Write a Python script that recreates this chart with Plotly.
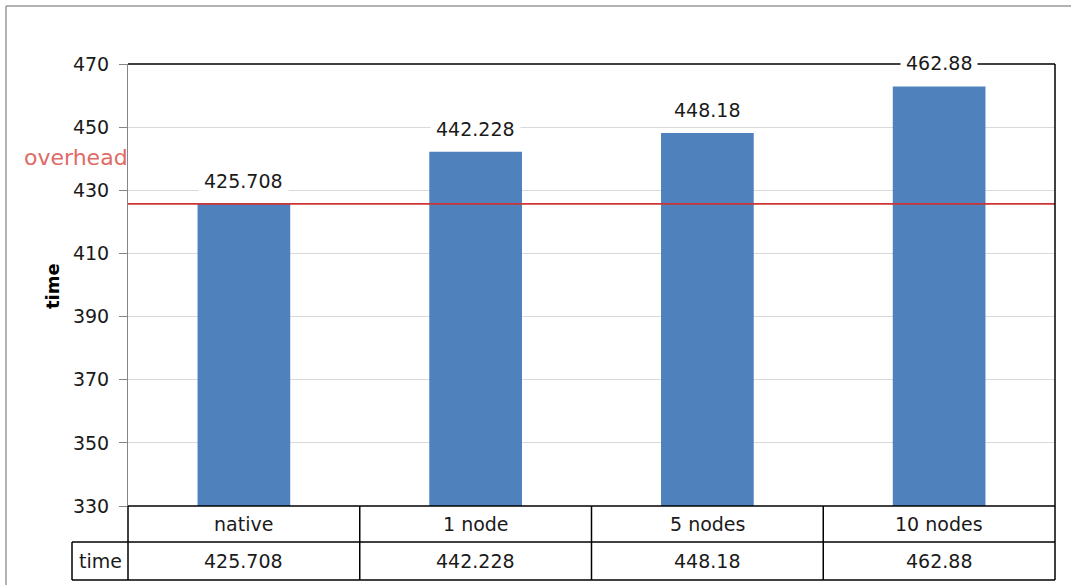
import plotly.graph_objects as go

# Run times per configuration
categories = ["native", "1 node", "5 nodes", "10 nodes"]
times = [425.708, 442.228, 448.18, 462.88]
series_name = "time"
baseline = times[0]          # reference level drawn as the "overhead" line
y_ticks = [330, 350, 370, 390, 410, 430, 450, 470]

W, H = 1071, 585
L, R, T, B = 128, 16, 64, 79
PW, PH = W - L - R, H - T - B

def px_x(px):
    return (px - L) / PW

def px_y(py):
    return (H - B - py) / PH

FONT = "DejaVu Sans"
BAR = "#4F81BD"
RED = "#CC3535"
TXT = "#1a1a1a"

fig = go.Figure()
fig.add_trace(go.Bar(
    x=list(range(len(categories))), y=times, marker=dict(color=BAR, line_width=0),
    name=series_name, showlegend=False, hoverinfo="skip",
))
# horizontal overhead reference across the plot
fig.add_trace(go.Scatter(
    x=[0, 1], y=[baseline, baseline], xaxis="x2", mode="lines",
    line=dict(color=RED, width=1.6), showlegend=False, hoverinfo="skip",
))

def label(**kw):
    d = dict(showarrow=False, xanchor="center", yanchor="middle")
    d.update(kw)
    return d

ann = []
# value labels above bars
for i, v in enumerate(times):
    ann.append(label(x=i, y=v, xref="x", yref="y", text=f"{v}", yshift=23,
                     bgcolor="white", borderpad=5,
                     font=dict(family=FONT, size=19, color=TXT)))
# data table text
row1_y = px_y(524)
row2_y = px_y(561)
for i, (c, v) in enumerate(zip(categories, times)):
    ann.append(label(x=i, y=row1_y, xref="x", yref="paper", text=c,
                     font=dict(family=FONT, size=19, color=TXT)))
    ann.append(label(x=i, y=row2_y, xref="x", yref="paper", text=f"{v}",
                     font=dict(family=FONT, size=19, color=TXT)))
ann.append(label(x=px_x(100), y=row2_y, xref="paper", yref="paper", text=series_name,
                 font=dict(family=FONT, size=19, color=TXT)))
# axis title
ann.append(label(x=px_x(52), y=px_y(286), xref="paper", yref="paper", text="<b>time</b>",
                 textangle=-90, font=dict(family=FONT, size=18, color="#000")))
# overhead label
ann.append(label(x=0, y=px_y(157), xref="paper", yref="paper", text="overhead",
                 xanchor="right", xshift=2,
                 font=dict(family=FONT, size=22, color="#E06A66")))

shapes = []
def seg(x0, y0, x1, y1, color="#000", width=1.5):
    shapes.append(dict(type="line", xref="paper", yref="paper", x0=x0, y0=y0, x1=x1, y1=y1,
                       line=dict(color=color, width=width), layer="above"))

# outer frame
seg(px_x(6), px_y(6), px_x(6), px_y(H), "#9a9a9a", 1.5)
seg(px_x(6), px_y(6), px_x(W), px_y(6), "#9a9a9a", 1.5)
# plot border (top / right)
seg(0, 1, 1, 1)
seg(1, 1, 1, px_y(580))
# table grid
yt, ym, yb = px_y(506), px_y(542), px_y(580)
seg(0, yt, 1, yt)
seg(px_x(72), ym, 1, ym)
seg(px_x(72), yb, 1, yb)
seg(px_x(72), ym, px_x(72), yb)
n = len(categories)
for k in range(n):
    seg(k / n, yt, k / n, yb)

fig.update_layout(
    width=W, height=H, margin=dict(l=L, r=R, t=T, b=B),
    paper_bgcolor="white", plot_bgcolor="white",
    bargap=0.6,
    font=dict(family=FONT, size=19, color=TXT),
    xaxis=dict(range=[-0.5, n - 0.5], showticklabels=False, showgrid=False, zeroline=False,
               showline=False, ticks=""),
    xaxis2=dict(range=[0, 1], overlaying="x", visible=False),
    yaxis=dict(range=[330, 470], tickvals=y_ticks, showgrid=True, gridcolor="#D9D9D9",
               gridwidth=1, zeroline=False, showline=True, linecolor="#868686", linewidth=1,
               ticks="outside", ticklen=8, tickcolor="#868686", ticklabelstandoff=6,
               tickfont=dict(family=FONT, size=19, color=TXT)),
    annotations=ann, shapes=shapes,
)

fig.write_html("out.html")
